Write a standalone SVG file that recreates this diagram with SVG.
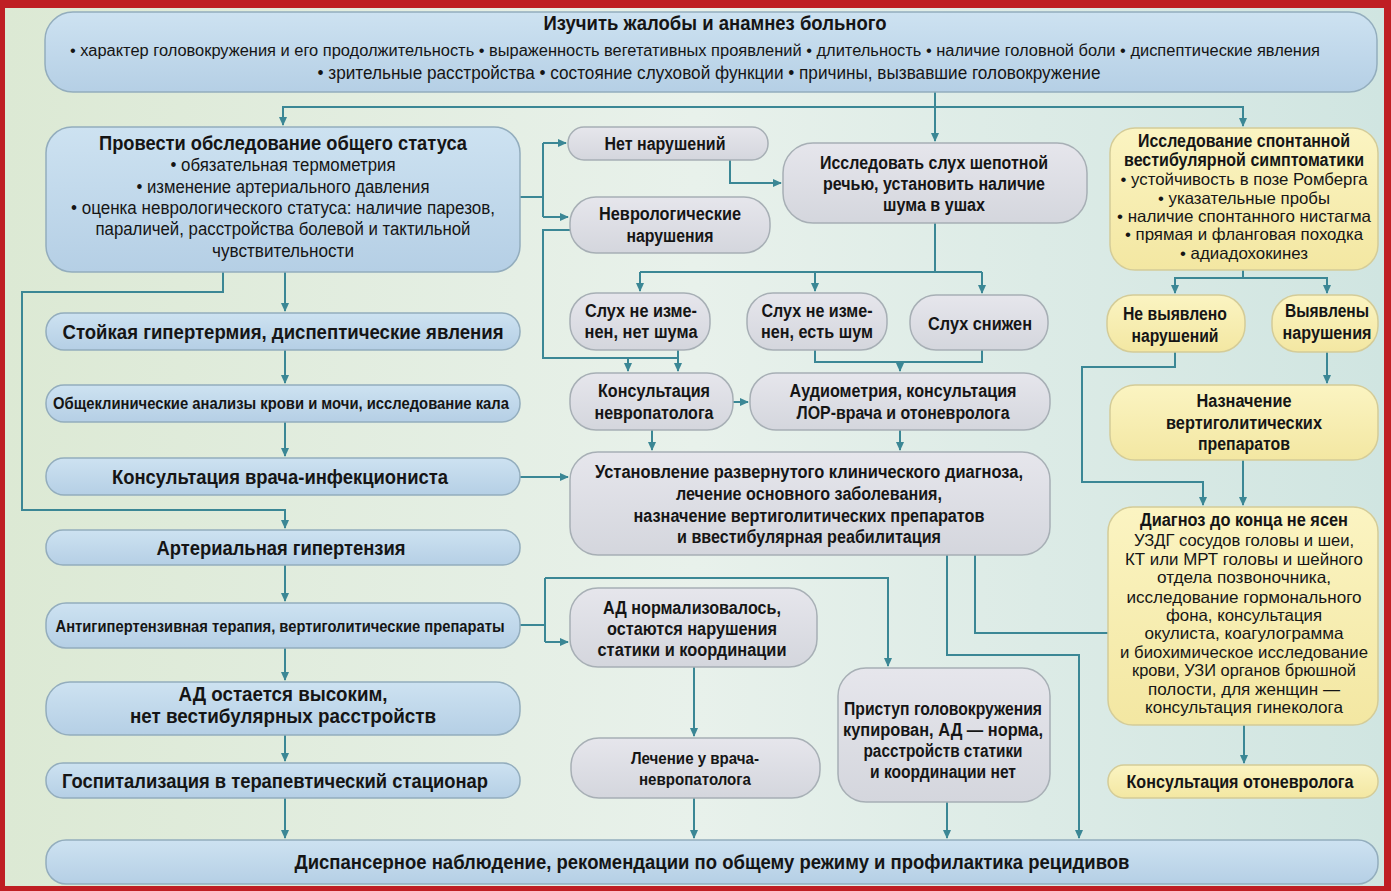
<svg xmlns="http://www.w3.org/2000/svg" width="1391" height="891" viewBox="0 0 1391 891">
<defs>
<linearGradient id="gBg" x1="0" y1="0" x2="1" y2="0">
<stop offset="0" stop-color="#dce9d4"/><stop offset="0.5" stop-color="#e8f1eb"/><stop offset="1" stop-color="#d0e5e1"/>
</linearGradient>
<linearGradient id="gBlue" x1="0" y1="0" x2="0" y2="1">
<stop offset="0" stop-color="#cde2f1"/><stop offset="1" stop-color="#b5cfe5"/>
</linearGradient>
<linearGradient id="gGray" x1="0" y1="0" x2="0" y2="1">
<stop offset="0" stop-color="#e6e6ec"/><stop offset="1" stop-color="#d4d6dd"/>
</linearGradient>
<linearGradient id="gYel" x1="0" y1="0" x2="0" y2="1">
<stop offset="0" stop-color="#fbf4c2"/><stop offset="1" stop-color="#f3e7a2"/>
</linearGradient>
<marker id="ah" viewBox="0 0 10 10" refX="9" refY="5" markerWidth="9" markerHeight="9" markerUnits="userSpaceOnUse" orient="auto">
<path d="M0,0.5 L10,5 L0,9.5 z" fill="#3b8795"/>
</marker>
</defs>
<style>
.nb{fill:url(#gBlue);stroke:#93adbd;stroke-width:1.5}
.ng{fill:url(#gGray);stroke:#a7afb5;stroke-width:1.5}
.ny{fill:url(#gYel);stroke:#d4cc98;stroke-width:1.5}
text{font-family:"Liberation Sans Narrow","Liberation Sans",Arial,sans-serif;fill:#151515;text-anchor:middle}
.bL{font-weight:bold;font-size:21px}
.bT{font-weight:bold;font-size:19.5px}
.b17{font-weight:bold;font-size:17.5px}
.b16{font-weight:bold;font-size:16px}
.bS{font-weight:bold;font-size:16.5px}
.r17{font-size:17.5px}
.rT{font-size:16px}
.r16{font-size:16.5px}
.c{fill:none;stroke:#3b8795;stroke-width:2}
.a{fill:none;stroke:#3b8795;stroke-width:2;marker-end:url(#ah)}
</style>
<rect x="0" y="0" width="1391" height="891" fill="#bf1e23"/>
<rect x="5" y="8" width="1379" height="878" fill="url(#gBg)"/>

<g id="connectors">
<path class="a" d="M935,92 V141"/>
<path class="a" d="M935,107 H283 V125"/>
<path class="a" d="M935,107 H1243 V126"/>
<path class="c" d="M520,197 H543 M543,143 V217"/>
<path class="a" d="M543,143 H566"/>
<path class="a" d="M543,217 H568"/>
<path class="a" d="M730,160 V183 H781"/>
<path class="c" d="M570,230 H543 V358 H678"/>
<path class="a" d="M628,358 V371"/>
<path class="a" d="M678,350 V371"/>
<path class="c" d="M935,223 V272 M640,272 H982"/>
<path class="a" d="M640,272 V291"/>
<path class="a" d="M815,272 V291"/>
<path class="a" d="M982,272 V293"/>
<path class="c" d="M815,350 V362 H982 V350"/>
<path class="a" d="M900,362 V371"/>
<path class="a" d="M733,402 H748"/>
<path class="a" d="M652,430 V450"/>
<path class="a" d="M900,430 V450"/>
<path class="a" d="M520,477 H568"/>
<path class="a" d="M223,272 V292 H22 V510 H285 V528"/>
<path class="a" d="M285,272 V311"/>
<path class="a" d="M285,350 V383"/>
<path class="a" d="M285,422 V456"/>
<path class="a" d="M285,565 V601"/>
<path class="a" d="M285,648 V680"/>
<path class="a" d="M285,735 V761"/>
<path class="a" d="M285,798 V838"/>
<path class="c" d="M520,625 H545 M545,578 V642"/>
<path class="a" d="M545,578 H888 V666"/>
<path class="a" d="M545,642 H568"/>
<path class="a" d="M694,667 V736"/>
<path class="a" d="M694,798 V838"/>
<path class="a" d="M947,802 V838"/>
<path class="a" d="M947,555 V655 H1079 V838"/>
<path class="c" d="M975,555 V633 H1108"/>
<path class="c" d="M1243,270 V278"/>
<path class="a" d="M1243,278 H1175 V293"/>
<path class="a" d="M1243,278 H1327 V293"/>
<path class="a" d="M1327,352 V383"/>
<path class="a" d="M1175,352 V367 H1082 V482 H1203 V505"/>
<path class="a" d="M1243,460 V505"/>
<path class="a" d="M1244,725 V763"/>
</g>

<g id="n-top">
<rect class="nb" x="45" y="12" width="1332" height="80" rx="28"/>
<text class="bT" x="715" y="30" textLength="343" lengthAdjust="spacingAndGlyphs">Изучить жалобы и анамнез больного</text>
<text class="rT" x="695" y="56" textLength="1250" lengthAdjust="spacingAndGlyphs">• характер головокружения и его продолжительность • выраженность вегетативных проявлений • длительность • наличие головной боли • диспептические явления</text>
<text class="r17" x="709" y="79" textLength="783" lengthAdjust="spacingAndGlyphs">• зрительные расстройства • состояние слуховой функции • причины, вызвавшие головокружение</text>
</g>

<g id="n-provesti">
<rect class="nb" x="46" y="127" width="474" height="145" rx="26"/>
<text class="bL" x="283" y="150" textLength="368" lengthAdjust="spacingAndGlyphs">Провести обследование общего статуса</text>
<text class="r17" x="283" y="171" textLength="225" lengthAdjust="spacingAndGlyphs">• обязательная термометрия</text>
<text class="r17" x="283" y="193" textLength="293" lengthAdjust="spacingAndGlyphs">• изменение артериального давления</text>
<text class="r17" x="283" y="214" textLength="424" lengthAdjust="spacingAndGlyphs">• оценка неврологического статуса: наличие парезов,</text>
<text class="r17" x="283" y="235" textLength="375" lengthAdjust="spacingAndGlyphs">параличей, расстройства болевой и тактильной</text>
<text class="r17" x="283" y="257" textLength="142" lengthAdjust="spacingAndGlyphs">чувствительности</text>
</g>

<g id="n-stoykaya">
<rect class="nb" x="46" y="313" width="474" height="37" rx="18"/>
<text class="bL" x="283" y="339" textLength="441" lengthAdjust="spacingAndGlyphs">Стойкая гипертермия, диспептические явления</text>
</g>

<g id="n-analizy">
<rect class="nb" x="46" y="385" width="474" height="37" rx="18"/>
<text class="bS" x="281" y="409" textLength="456" lengthAdjust="spacingAndGlyphs">Общеклинические анализы крови и мочи, исследование кала</text>
</g>

<g id="n-infekcionist">
<rect class="nb" x="46" y="458" width="474" height="37" rx="18"/>
<text class="bL" x="280" y="484" textLength="336" lengthAdjust="spacingAndGlyphs">Консультация врача-инфекциониста</text>
</g>

<g id="n-gipertenziya">
<rect class="nb" x="46" y="530" width="474" height="35" rx="17"/>
<text class="bL" x="281" y="555" textLength="249" lengthAdjust="spacingAndGlyphs">Артериальная гипертензия</text>
</g>

<g id="n-antigip">
<rect class="nb" x="46" y="603" width="474" height="45" rx="20"/>
<text class="bS" x="280" y="632" textLength="449" lengthAdjust="spacingAndGlyphs">Антигипертензивная терапия, вертиголитические препараты</text>
</g>

<g id="n-ad-vysokim">
<rect class="nb" x="46" y="682" width="474" height="53" rx="24"/>
<text class="bL" x="283" y="701" textLength="209" lengthAdjust="spacingAndGlyphs">АД остается высоким,</text>
<text class="bL" x="283" y="723" textLength="306" lengthAdjust="spacingAndGlyphs">нет вестибулярных расстройств</text>
</g>

<g id="n-gospit">
<rect class="nb" x="46" y="763" width="474" height="35" rx="17"/>
<text class="bL" x="275" y="788" textLength="426" lengthAdjust="spacingAndGlyphs">Госпитализация в терапевтический стационар</text>
</g>

<g id="n-dispanser">
<rect class="nb" x="46" y="840" width="1332" height="44" rx="20"/>
<text class="bT" x="712" y="869" textLength="835" lengthAdjust="spacingAndGlyphs">Диспансерное наблюдение, рекомендации по общему режиму и профилактика рецидивов</text>
</g>

<g id="n-net-narusheniy">
<rect class="ng" x="568" y="127" width="200" height="33" rx="16"/>
<text class="b17" x="665" y="150" textLength="121" lengthAdjust="spacingAndGlyphs">Нет нарушений</text>
</g>

<g id="n-nevrol">
<rect class="ng" x="570" y="197" width="200" height="56" rx="26"/>
<text class="b17" x="670" y="220" textLength="142" lengthAdjust="spacingAndGlyphs">Неврологические</text>
<text class="b17" x="670" y="242" textLength="87" lengthAdjust="spacingAndGlyphs">нарушения</text>
</g>

<g id="n-issledovat">
<rect class="ng" x="783" y="143" width="304" height="80" rx="30"/>
<text class="b17" x="934" y="169" textLength="228" lengthAdjust="spacingAndGlyphs">Исследовать слух шепотной</text>
<text class="b17" x="934" y="190" textLength="222" lengthAdjust="spacingAndGlyphs">речью, установить наличие</text>
<text class="b17" x="934" y="211" textLength="102" lengthAdjust="spacingAndGlyphs">шума в ушах</text>
</g>

<g id="n-sluh1">
<rect class="ng" x="570" y="293" width="140" height="57" rx="26"/>
<text class="b17" x="641" y="317" textLength="112" lengthAdjust="spacingAndGlyphs">Слух не изме-</text>
<text class="b17" x="641" y="338" textLength="113" lengthAdjust="spacingAndGlyphs">нен, нет шума</text>
</g>

<g id="n-sluh2">
<rect class="ng" x="747" y="293" width="140" height="57" rx="26"/>
<text class="b17" x="817" y="317" textLength="111" lengthAdjust="spacingAndGlyphs">Слух не изме-</text>
<text class="b17" x="817" y="338" textLength="112" lengthAdjust="spacingAndGlyphs">нен, есть шум</text>
</g>

<g id="n-sluh3">
<rect class="ng" x="910" y="295" width="138" height="55" rx="26"/>
<text class="b17" x="980" y="330" textLength="104" lengthAdjust="spacingAndGlyphs">Слух снижен</text>
</g>

<g id="n-kons-nevr">
<rect class="ng" x="570" y="373" width="163" height="57" rx="26"/>
<text class="b17" x="654" y="397" textLength="112" lengthAdjust="spacingAndGlyphs">Консультация</text>
<text class="b17" x="654" y="419" textLength="119" lengthAdjust="spacingAndGlyphs">невропатолога</text>
</g>

<g id="n-audio">
<rect class="ng" x="750" y="373" width="300" height="57" rx="26"/>
<text class="b17" x="903" y="397" textLength="227" lengthAdjust="spacingAndGlyphs">Аудиометрия, консультация</text>
<text class="b17" x="903" y="419" textLength="213" lengthAdjust="spacingAndGlyphs">ЛОР-врача и отоневролога</text>
</g>

<g id="n-ustanovlenie">
<rect class="ng" x="570" y="452" width="480" height="103" rx="28"/>
<text class="b17" x="809" y="478" textLength="428" lengthAdjust="spacingAndGlyphs">Установление развернутого клинического диагноза,</text>
<text class="b17" x="809" y="500" textLength="266" lengthAdjust="spacingAndGlyphs">лечение основного заболевания,</text>
<text class="b17" x="809" y="522" textLength="351" lengthAdjust="spacingAndGlyphs">назначение вертиголитических препаратов</text>
<text class="b17" x="809" y="543" textLength="264" lengthAdjust="spacingAndGlyphs">и ввестибулярная реабилитация</text>
</g>

<g id="n-ad-norm">
<rect class="ng" x="570" y="588" width="247" height="79" rx="28"/>
<text class="b17" x="692" y="614" textLength="178" lengthAdjust="spacingAndGlyphs">АД нормализовалось,</text>
<text class="b17" x="692" y="635" textLength="170" lengthAdjust="spacingAndGlyphs">остаются нарушения</text>
<text class="b17" x="692" y="656" textLength="189" lengthAdjust="spacingAndGlyphs">статики и координации</text>
</g>

<g id="n-lechenie">
<rect class="ng" x="571" y="738" width="249" height="60" rx="28"/>
<text class="b16" x="695" y="764" textLength="128" lengthAdjust="spacingAndGlyphs">Лечение у врача-</text>
<text class="b16" x="695" y="785" textLength="112" lengthAdjust="spacingAndGlyphs">невропатолога</text>
</g>

<g id="n-pristup">
<rect class="ng" x="838" y="668" width="212" height="134" rx="28"/>
<text class="b17" x="943" y="715" textLength="198" lengthAdjust="spacingAndGlyphs">Приступ головокружения</text>
<text class="b17" x="943" y="736" textLength="200" lengthAdjust="spacingAndGlyphs">купирован, АД — норма,</text>
<text class="b17" x="943" y="757" textLength="159" lengthAdjust="spacingAndGlyphs">расстройств статики</text>
<text class="b17" x="943" y="778" textLength="146" lengthAdjust="spacingAndGlyphs">и координации нет</text>
</g>

<g id="n-spontan">
<rect class="ny" x="1110" y="128" width="268" height="142" rx="25"/>
<text class="b17" x="1244" y="147" textLength="212" lengthAdjust="spacingAndGlyphs">Исследование спонтанной</text>
<text class="b17" x="1244" y="166" textLength="240" lengthAdjust="spacingAndGlyphs">вестибулярной симптоматики</text>
<text class="r16" x="1244" y="185" textLength="247" lengthAdjust="spacingAndGlyphs">• устойчивость в позе Ромберга</text>
<text class="r16" x="1244" y="204" textLength="172" lengthAdjust="spacingAndGlyphs">• указательные пробы</text>
<text class="r16" x="1244" y="222" textLength="254" lengthAdjust="spacingAndGlyphs">• наличие спонтанного нистагма</text>
<text class="r16" x="1244" y="240" textLength="238" lengthAdjust="spacingAndGlyphs">• прямая и фланговая походка</text>
<text class="r16" x="1244" y="259" textLength="128" lengthAdjust="spacingAndGlyphs">• адиадохокинез</text>
</g>

<g id="n-ne-vyavleno">
<rect class="ny" x="1107" y="295" width="138" height="57" rx="26"/>
<text class="b17" x="1175" y="320" textLength="104" lengthAdjust="spacingAndGlyphs">Не выявлено</text>
<text class="b17" x="1175" y="342" textLength="87" lengthAdjust="spacingAndGlyphs">нарушений</text>
</g>

<g id="n-vyavleny">
<rect class="ny" x="1272" y="295" width="106" height="57" rx="26"/>
<text class="b17" x="1327" y="317" textLength="84" lengthAdjust="spacingAndGlyphs">Выявлены</text>
<text class="b17" x="1327" y="339" textLength="89" lengthAdjust="spacingAndGlyphs">нарушения</text>
</g>

<g id="n-naznachenie">
<rect class="ny" x="1110" y="385" width="268" height="75" rx="25"/>
<text class="b17" x="1244" y="407" textLength="95" lengthAdjust="spacingAndGlyphs">Назначение</text>
<text class="b17" x="1244" y="429" textLength="156" lengthAdjust="spacingAndGlyphs">вертиголитических</text>
<text class="b17" x="1244" y="450" textLength="92" lengthAdjust="spacingAndGlyphs">препаратов</text>
</g>

<g id="n-diagnoz">
<rect class="ny" x="1108" y="507" width="270" height="218" rx="25"/>
<text class="b17" x="1244" y="526" textLength="208" lengthAdjust="spacingAndGlyphs">Диагноз до конца не ясен</text>
<text class="r16" x="1244" y="546" textLength="220" lengthAdjust="spacingAndGlyphs">УЗДГ сосудов головы и шеи,</text>
<text class="r16" x="1244" y="565" textLength="238" lengthAdjust="spacingAndGlyphs">КТ или МРТ головы и шейного</text>
<text class="r16" x="1244" y="583" textLength="174" lengthAdjust="spacingAndGlyphs">отдела позвоночника,</text>
<text class="r16" x="1244" y="603" textLength="235" lengthAdjust="spacingAndGlyphs">исследование гормонального</text>
<text class="r16" x="1244" y="621" textLength="156" lengthAdjust="spacingAndGlyphs">фона, консультация</text>
<text class="r16" x="1244" y="639" textLength="199" lengthAdjust="spacingAndGlyphs">окулиста, коагулограмма</text>
<text class="r16" x="1244" y="658" textLength="248" lengthAdjust="spacingAndGlyphs">и биохимическое исследование</text>
<text class="r16" x="1244" y="676" textLength="224" lengthAdjust="spacingAndGlyphs">крови, УЗИ органов брюшной</text>
<text class="r16" x="1244" y="695" textLength="192" lengthAdjust="spacingAndGlyphs">полости, для женщин —</text>
<text class="r16" x="1244" y="713" textLength="198" lengthAdjust="spacingAndGlyphs">консультация гинеколога</text>
</g>

<g id="n-otonevrolog">
<rect class="ny" x="1108" y="765" width="270" height="33" rx="16"/>
<text class="b17" x="1240" y="788" textLength="227" lengthAdjust="spacingAndGlyphs">Консультация отоневролога</text>
</g>
</svg>
